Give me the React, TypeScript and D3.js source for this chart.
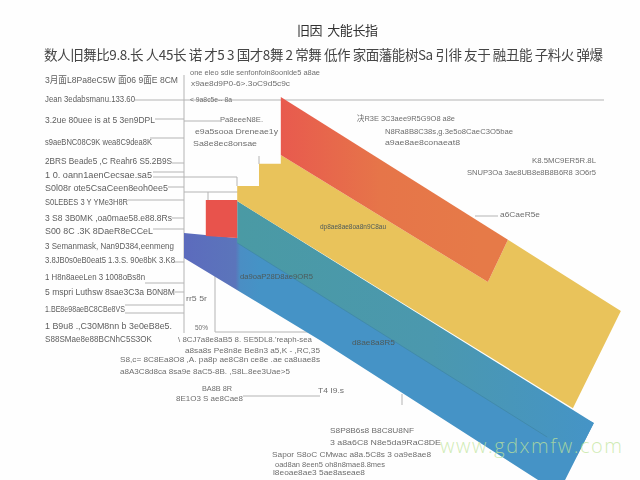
import React from 'react';
import * as d3 from 'd3';

// band outlines in chart units (x 0-100, y 0-100)
const blueBand: [number, number][] = [[0, 65], [12.2, 63.7], [94, 15], [87.4, 0], [81.2, 0], [31.2, 36.8], [0, 58.4]];
const tealBand: [number, number][] = [[12.2, 73.4], [94, 15], [90.1, 6.3], [12.2, 62.4]];
const yellowBand: [number, number][] = [[12.2, 77.4], [17.2, 77.4], [17.2, 83.2], [22.2, 83.2], [22.2, 85.5], [69.7, 52.1], [74.3, 63.2], [100.2, 44.5], [89.2, 18.9], [12.2, 73.4]];
const orangeBand: [number, number][] = [[22.2, 100.8], [74.3, 63.2], [69.7, 52.1], [22.2, 85.5]];
const redBlock: [number, number][] = [[5, 73.7], [12.2, 73.7], [12.2, 63.7], [5, 64.2]];
const innerLine: [number, number][] = [[12.2, 62.4], [83.3, 11.3]];

const titleText = '旧因  大能长指';
const subtitleText = '数人旧舞比9.8.长 人45长 诺 才5 3  国才8舞 2 常舞 低作 家面藩能树Sa 引徘 友于 融丑能 子料火 弹爆';
const watermark = 'www.gdxmfw.com';

const leftLabels = [
  '3月面L8Pa8eC5W 面06 9面E 8CM',
  'Jean 3edabsmanu.133.60',
  '3.2ue 80uee is at 5 3en9DPL',
  's9aeBNC08C9K wea8C9dea8K',
  '2BRS Beade5 ,C Reahr6 S5.2B9S',
  '1 0. oann1aenCecsae.sa5',
  'S0l08r ote5CsaCeen8eoh0ee5',
  'S0LEBES 3 Y YMe3H8R',
  '3 S8 3B0MK ,oa0mae58.e88.8Rs',
  'S00 8C .3K 8DaeR8eCCeL',
  '3 Semanmask, Nan9D384,eenmeng',
  '3.8JB0s0eB0eat5 1.3.S. 90e8bK 3.K8',
  '1 H8n8aeeLen 3 1008oBs8n',
  '5 mspri Luthsw 8sae3C3a B0N8M',
  '1.BE8e98aeBC8CBe8VS',
  '1 B9u8 .,C30M8nn b 3e0eB8e5.',
  'S88SMae8e88BCNhC5S3OK',
];
const otherLabels = [
  'one eleo sdie senfonfoin8oonlde5 a8ae',
  'x9ae8d9P0-6>.3oC9d5c9c',
  '< 9a8c5e-- 8a',
  'Pa8eeeN8E.',
  'e9a5sooa Dreneae1y',
  'Sa8e8ec8onsae',
  '决R3E 3C3aee9R5G9O8 a8e',
  'N8Ra8B8C38s,g.3e5o8CaeC3O5bae',
  'a9ae8ae8conaeat8',
  'K8.5MC9ER5R.8L',
  'SNUP3Oa 3ae8UB8e8B8B6R8 3O6r5',
  'a6CaeR5e',
  'dp8ae8ae8oa8n9C8au',
  'da9oaP28D8ae9OR5',
  'd8ae8a8R5',
  'rr5 5r',
  '50%',
  '\\ 8CJ7a8e8aB5 8. SE5DL8.\'reaph-sea',
  'a8sa8s Pe8n8e Be8n3 a5,K - ,RC,35',
  'S8,c= 8C8Ea8O8 ,A. pa8p ae8C8n ce8e .ae ca8uae8s',
  'a8A3C8d8ca 8sa9e 8aC5-8B. ,S8L.8ee3Uae>5',
  'BA8B 8R',
  '8E1O3 S ae8Cae8',
  'T4 I9.s',
  'S8P8B6s8 B8C8U8NF',
  '3 a8a6C8 N8e5da9RaC8DE',
  'Sapor S8oC CMwac a8a.5C8s 3 oa9e8ae8',
  'oad8an 8een5 oh8n8mae8.8mes',
  'l8eoae8ae3 5ae8aseae8',
];

const xScale = d3.scaleLinear().domain([0, 100]).range([184, 620]);
const yScale = d3.scaleLinear().domain([0, 100]).range([480, 100]);
const bandPath = d3
  .line<[number, number]>()
  .x((d) => xScale(d[0]))
  .y((d) => yScale(d[1]))
  .curve(d3.curveLinearClosed);
const linePath = d3
  .line<[number, number]>()
  .x((d) => xScale(d[0]))
  .y((d) => yScale(d[1]));

// layout: y of each left label and the x where it ends
const leftLayout = [
  [80, 178], [99, 135], [120, 155], [142, 152], [161, 172], [175, 152], [188, 168], [202, 128], [218, 172],
  [231, 153], [246, 174], [260, 175], [277, 145], [292, 175], [309, 125], [326, 172], [339, 152],
];
// layout: x, y, end x of the other labels
const otherLayout = [
  [190, 72, 320], [191, 83, 290], [190, 99, 232], [220, 119, 263], [195, 131, 278], [193, 143, 257],
  [357, 118, 455], [385, 131, 513], [385, 142, 460], [532, 160, 596], [467, 172, 596], [500, 214, 540],
  [320, 226, 386], [240, 276, 313], [352, 342, 395], [186, 298, 207], [195, 327, 208],
  [178, 339, 312], [185, 350, 320], [120, 359, 320], [120, 371, 290], [202, 388, 232], [176, 398, 243],
  [318, 390, 344], [330, 430, 414], [330, 442, 441], [272, 454, 431], [275, 464, 385], [273, 472, 365],
];
const leaders = [
  [155, 119, 184], [184, 121, 220], [150, 138, 184], [172, 163, 184], [153, 172, 184], [153, 177, 237],
  [168, 187, 184], [184, 192, 259], [128, 200, 184], [172, 218, 184], [153, 229, 184], [174, 262, 184],
  [145, 283, 184], [175, 292, 184], [125, 305, 184], [125, 313, 184], [475, 216, 498],
];

const labelFont = '"Liberation Sans", "Noto Sans CJK SC", sans-serif';

export default function App() {
  return (
    <svg
      width={640}
      height={480}
      viewBox="0 0 640 480"
      style={{ position: 'absolute', left: 0, top: 0, display: 'block', background: '#fefefe' }}
    >
      <defs>
        <linearGradient id="blueGrad" gradientUnits="userSpaceOnUse" x1={184} y1={0} x2={260} y2={0}>
          <stop offset="0" stopColor="#5c6bbd" />
          <stop offset="0.68" stopColor="#5b75bb" />
          <stop offset="0.74" stopColor="#4a8ec4" />
          <stop offset="1" stopColor="#4593c6" />
        </linearGradient>
        <linearGradient id="tealGrad" gradientUnits="userSpaceOnUse" x1={237} y1={0} x2={590} y2={0}>
          <stop offset="0" stopColor="#4a9aa4" />
          <stop offset="0.55" stopColor="#4b98ae" />
          <stop offset="1" stopColor="#4594c6" />
        </linearGradient>
        <linearGradient id="orangeGrad" gradientUnits="userSpaceOnUse" x1={281} y1={0} x2={480} y2={0}>
          <stop offset="0" stopColor="#e85a4e" />
          <stop offset="0.5" stopColor="#e67549" />
          <stop offset="1" stopColor="#e67a48" />
        </linearGradient>
        <filter id="soft" x="-5%" y="-20%" width="110%" height="140%">
          <feGaussianBlur stdDeviation="0.3" />
        </filter>
      </defs>

      <g stroke="#b4b4b4" strokeWidth={1} fill="none">
        <line x1={xScale(0)} x2={xScale(0)} y1={75} y2={333} />
        <line x1={135} x2={604} y1={yScale(100)} y2={yScale(100)} />
        <line x1={215} x2={215} y1={275} y2={332} />
        <line x1={215} x2={320} y1={332} y2={332} />
        <line x1={243} x2={320} y1={396} y2={396} />
        <line x1={402} x2={402} y1={394} y2={405} />
        <line x1={237} x2={237} y1={177} y2={186} />
        <line x1={208} x2={208} y1={192} y2={200} />
        <line x1={259} x2={259} y1={156} y2={164} />
        {leaders.map((d, i) => (
          <line key={i} x1={d[0]} x2={d[2]} y1={d[1]} y2={d[1]} />
        ))}
      </g>

      <path d={bandPath(blueBand) ?? ''} fill="url(#blueGrad)" />
      <path d={bandPath(tealBand) ?? ''} fill="url(#tealGrad)" />
      <path d={bandPath(yellowBand) ?? ''} fill="#e9c35b" />
      <path d={bandPath(orangeBand) ?? ''} fill="url(#orangeGrad)" />
      <path d={bandPath(redBlock) ?? ''} fill="#e8534c" />
      <path d={linePath(innerLine) ?? ''} fill="none" stroke="#3f86a8" strokeWidth={0.8} />

      <g filter="url(#soft)">
        <text
          x={297}
          y={35}
          fontFamily='"Noto Sans CJK SC", sans-serif'
          fontSize={13}
          fill="#333"
          textLength={81}
          lengthAdjust="spacing"
          xmlSpace="preserve"
        >
          {titleText}
        </text>
        <text
          x={44}
          y={60}
          fontFamily='"Noto Sans CJK SC", sans-serif'
          fontSize={13.5}
          fill="#444"
          textLength={559}
          lengthAdjust="spacing"
        >
          {subtitleText}
        </text>
        {leftLabels.map((t, i) => (
          <text
            key={i}
            x={45}
            y={leftLayout[i][0] + 3}
            fontFamily={labelFont}
            fontSize={9}
            fill="#5e5e5e"
            textLength={leftLayout[i][1] - 45}
            lengthAdjust="spacingAndGlyphs"
          >
            {t}
          </text>
        ))}
        {otherLabels.map((t, i) => (
          <text
            key={i}
            x={otherLayout[i][0]}
            y={otherLayout[i][1] + 3}
            fontFamily={labelFont}
            fontSize={8}
            fill={i === 12 || i === 13 || i === 14 ? '#4d5a5a' : '#6e6e6e'}
            textLength={otherLayout[i][2] - otherLayout[i][0]}
            lengthAdjust="spacingAndGlyphs"
          >
            {t}
          </text>
        ))}
      </g>

      <text
        x={440}
        y={453}
        fontFamily='"Open Sans", sans-serif'
        fontSize={20}
        fontWeight={300}
        fill="#bfe59a"
        fillOpacity={0.75}
        textLength={182}
        lengthAdjust="spacing"
      >
        {watermark}
      </text>
    </svg>
  );
}
